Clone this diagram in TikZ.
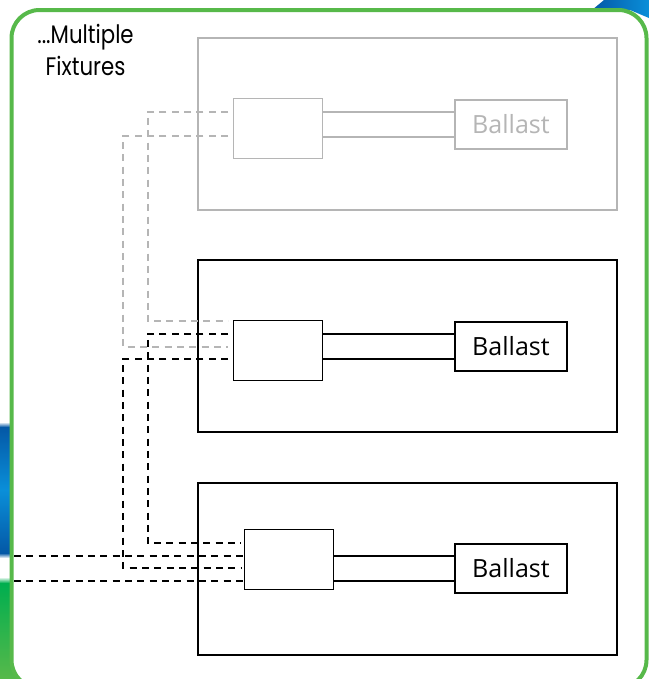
\documentclass[tikz,border=0pt]{standalone}
\usepackage{fontspec}
\setmainfont{Open Sans}
\newfontfamily\titlefont[FakeStretch=0.84]{Poppins}
\definecolor{framegreen}{HTML}{57B94A}
\definecolor{fadedgray}{HTML}{B5B5B5}
\definecolor{darkblue}{HTML}{0458A6}
\definecolor{midblue}{HTML}{0A8FD9}
\definecolor{stripgreen}{HTML}{00AE4F}
\tikzset{
  x=0.75pt,y=-0.75pt,
  fixturebox/.style={draw,line width=1.5pt,inner sep=0,minimum width=314.25pt,minimum height=129pt},
  ctrlbox/.style={draw,line width=0.75pt,fill=white,inner sep=0,minimum width=66.4pt,minimum height=45pt},
  ballastbox/.style={draw,line width=1.5pt,inner sep=0,minimum width=84pt,minimum height=36.75pt,font=\fontsize{18.8pt}{22pt}\selectfont},
  wire/.style={line width=1.2pt},
  bus/.style={line width=1.5pt,dash pattern=on 5.25pt off 4pt},
  faded/.style={draw=fadedgray,text=fadedgray},
}
\begin{document}
\begin{tikzpicture}
\useasboundingbox (0,0) rectangle (649,679);
% background artwork
\shade[top color=white,bottom color=darkblue] (0,422) rectangle (12,427);
\shade[top color=darkblue,bottom color=midblue] (0,427) rectangle (12,490);
\shade[top color=midblue,bottom color=darkblue] (0,490) rectangle (12,553);
\shade[top color=darkblue,bottom color=white] (0,553) rectangle (12,558);
\shade[top color=white,bottom color=stripgreen] (0,577) rectangle (12,583);
\shade[top color=stripgreen,bottom color=framegreen] (0,583) rectangle (24,679);
\shade[left color=darkblue,right color=midblue] (592,10) -- (604,0) -- (649,0) -- (649,18) -- (630,10) -- cycle;
% frame
\node[draw=framegreen,line width=3pt,fill=white,rounded corners=21pt,inner sep=0,minimum width=476.25pt,minimum height=508.5pt] (frame) at (329,349) {};
\node[font=\titlefont\fontsize{19pt}{24pt}\selectfont,align=center] (title) at (85.5,50) {...Multiple\\Fixtures};

% fixtures
\node[fixturebox,faded] (fix1) at (407.5,124) {};
\node[fixturebox] (fix2) at (407.5,346) {};
\node[fixturebox] (fix3) at (407.5,568.5) {};

\node[ctrlbox,draw=fadedgray] (ctrl1) at (278.25,128) {};
\node[ctrlbox] (ctrl2) at (278.25,350) {};
\node[ctrlbox] (ctrl3) at (289,559) {};
\node[ballastbox,faded] (ball1) at (511,124.5) {Ballast};
\node[ballastbox] (ball2) at (511,346.5) {Ballast};
\node[ballastbox] (ball3) at (511,568.5) {Ballast};

% solid wires
\draw[wire,fadedgray] ([yshift=9.4pt]ball1.west) -- ([yshift=9.4pt]ball1.west -| ctrl1.east);
\draw[wire,fadedgray] ([yshift=-9.4pt]ball1.west) -- ([yshift=-9.4pt]ball1.west -| ctrl1.east);
\draw[wire] ([yshift=9.4pt]ball2.west) -- ([yshift=9.4pt]ball2.west -| ctrl2.east);
\draw[wire] ([yshift=-9.4pt]ball2.west) -- ([yshift=-9.4pt]ball2.west -| ctrl2.east);
\draw[wire] ([yshift=9.4pt]ball3.west) -- ([yshift=9.4pt]ball3.west -| ctrl3.east);
\draw[wire] ([yshift=-9.4pt]ball3.west) -- ([yshift=-9.4pt]ball3.west -| ctrl3.east);

% dashed buses
\coordinate (g1a) at (228,112);
\coordinate (g1b) at (228,136);
\coordinate (g2a) at (228,321);
\coordinate (g2b) at (228,347);
\coordinate (k2a) at (228,334);
\coordinate (k2b) at (228,359);
\coordinate (k3a) at (241,543);
\coordinate (k3b) at (241,568);
\coordinate (m3a) at (243,556);
\coordinate (m3b) at (243,581);
\coordinate (left1) at (14,556);
\coordinate (left2) at (14,581);
\draw[bus,fadedgray] (g1a) -- (147.5,112) -- (147.5,321) -- (g2a);
\draw[bus,fadedgray] (g1b) -- (123,136) -- (123,347) -- (g2b);
\draw[bus] (k2a) -- (147.5,334) -- (147.5,543) -- (k3a);
\draw[bus] (k2b) -- (123,359) -- (123,568) -- (k3b);
\draw[bus] (left1) -- (m3a);
\draw[bus] (left2) -- (m3b);
\end{tikzpicture}
\end{document}
